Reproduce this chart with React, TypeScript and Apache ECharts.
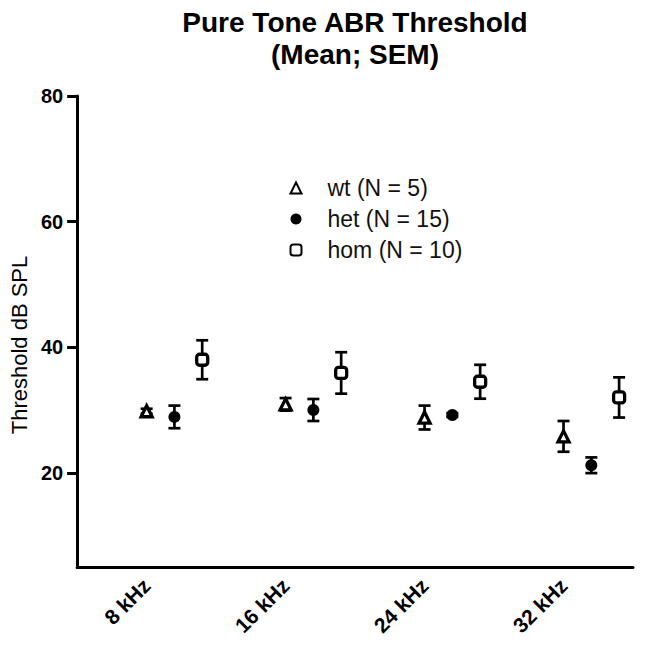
import React, { useEffect, useRef } from "react";
import * as echarts from "echarts";

const categories = ["8 kHz", "16 kHz", "24 kHz", "32 kHz"];
const seriesNames = ["wt (N = 5)", "het (N = 15)", "hom (N = 10)"];
const wtMean = [29.8, 30.9, 28.8, 25.8];
const wtSem = [0.4, 1.0, 1.9, 2.45];
const hetMean = [28.9, 30.0, 29.2, 21.2];
const hetSem = [1.8, 1.75, 0.3, 1.25];
const homMean = [38.0, 35.9, 34.5, 32.0];
const homSem = [3.1, 3.3, 2.7, 3.2];
const yTicks = [20, 40, 60, 80];

const FONT = "'Liberation Sans', Arial, Helvetica, sans-serif";

export default function App() {
  const ref = useRef<HTMLDivElement>(null);
  useEffect(() => {
    if (!ref.current) return;
    const chart = echarts.init(ref.current, undefined, { renderer: "svg" });
    const groups = [
      { name: seriesNames[0], mean: wtMean, sem: wtSem, offset: 0, symbol: "triangle", size: 11, filled: false },
      { name: seriesNames[1], mean: hetMean, sem: hetSem, offset: 0.2, symbol: "circle", size: 12, filled: true },
      { name: seriesNames[2], mean: homMean, sem: homSem, offset: 0.4, symbol: "roundRect", size: 11, filled: false },
    ];
    const errSeries = groups.map((g) => ({
      type: "custom",
      xAxisIndex: 1,
      yAxisIndex: 0,
      silent: true,
      z: 2,
      encode: { x: 0, y: [1, 2] },
      data: g.mean.map((m, i) => [i + g.offset, m - g.sem[i], m + g.sem[i]]),
      renderItem: (params: any, api: any) => {
        const x = api.value(0);
        const lo = api.value(1);
        const hi = api.value(2);
        const p1 = api.coord([x, hi]);
        const p2 = api.coord([x, lo]);
        const w = 6;
        const st = { stroke: "#000", lineWidth: 2.7 };
        return {
          type: "group",
          children: [
            { type: "line", shape: { x1: p1[0], y1: p1[1], x2: p2[0], y2: p2[1] }, style: st },
            { type: "line", shape: { x1: p1[0] - w, y1: p1[1], x2: p1[0] + w, y2: p1[1] }, style: st },
            { type: "line", shape: { x1: p2[0] - w, y1: p2[1], x2: p2[0] + w, y2: p2[1] }, style: st },
          ],
        };
      },
    }));
    const scatterSeries = groups.map((g) => ({
      type: "scatter",
      name: g.name,
      xAxisIndex: 1,
      yAxisIndex: 0,
      z: 3,
      symbol: g.symbol,
      symbolSize: g.size,
      itemStyle: g.filled
        ? { color: "#000", borderColor: "#000", borderWidth: 0, opacity: 1 }
        : { color: "#fff", borderColor: "#000", borderWidth: 3.3, opacity: 1 },
      data: g.mean.map((m, i) => [i + g.offset, m]),
    }));
    chart.setOption({
      animation: false,
      backgroundColor: "#fff",
      textStyle: { fontFamily: FONT },
      title: {
        text: "Pure Tone ABR Threshold\n(Mean; SEM)",
        left: 355,
        top: 6,
        padding: 0,
        textAlign: "center",
        textStyle: { fontFamily: FONT, fontSize: 28, fontWeight: "bold", color: "#000", lineHeight: 32 },
      },
      legend: {
        orient: "vertical",
        left: 284.5,
        top: 170,
        itemWidth: 11,
        itemHeight: 11,
        itemGap: 5,
        data: seriesNames,
        textStyle: { fontFamily: FONT, fontSize: 23, color: "#111", lineHeight: 26, padding: [0, 0, 0, 21] },
      },
      grid: { left: 77, right: 12, top: 96, bottom: 79, containLabel: false },
      xAxis: [
        {
          type: "category",
          data: categories,
          boundaryGap: true,
          axisLine: { lineStyle: { color: "#000", width: 3 } },
          axisTick: { alignWithLabel: true, length: 8, lineStyle: { color: "#000", width: 3 } },
          axisLabel: { rotate: 45, margin: 15, fontFamily: FONT, fontSize: 21, fontWeight: "bold", color: "#000" },
        },
        {
          type: "value",
          min: -0.5,
          max: 3.5,
          show: false,
        },
      ],
      yAxis: {
        type: "value",
        min: 5,
        max: 80,
        name: "Threshold dB SPL",
        nameLocation: "middle",
        nameGap: 47,
        nameTextStyle: { fontFamily: FONT, fontSize: 22, color: "#000", padding: [0, 27, 0, 0] },
        splitLine: { show: false },
        axisLine: { show: true, onZero: false, lineStyle: { color: "#000", width: 3 } },
        axisTick: { show: true, length: 10, customValues: yTicks, lineStyle: { color: "#000", width: 3 } },
        axisLabel: { customValues: yTicks, margin: 14, fontFamily: FONT, fontSize: 20, fontWeight: "bold", color: "#000" },
      },
      series: [...errSeries, ...scatterSeries],
    });
    return () => chart.dispose();
  }, []);
  return <div ref={ref} style={{ width: 645, height: 646, position: "absolute", left: 0, top: 0 }} />;
}
